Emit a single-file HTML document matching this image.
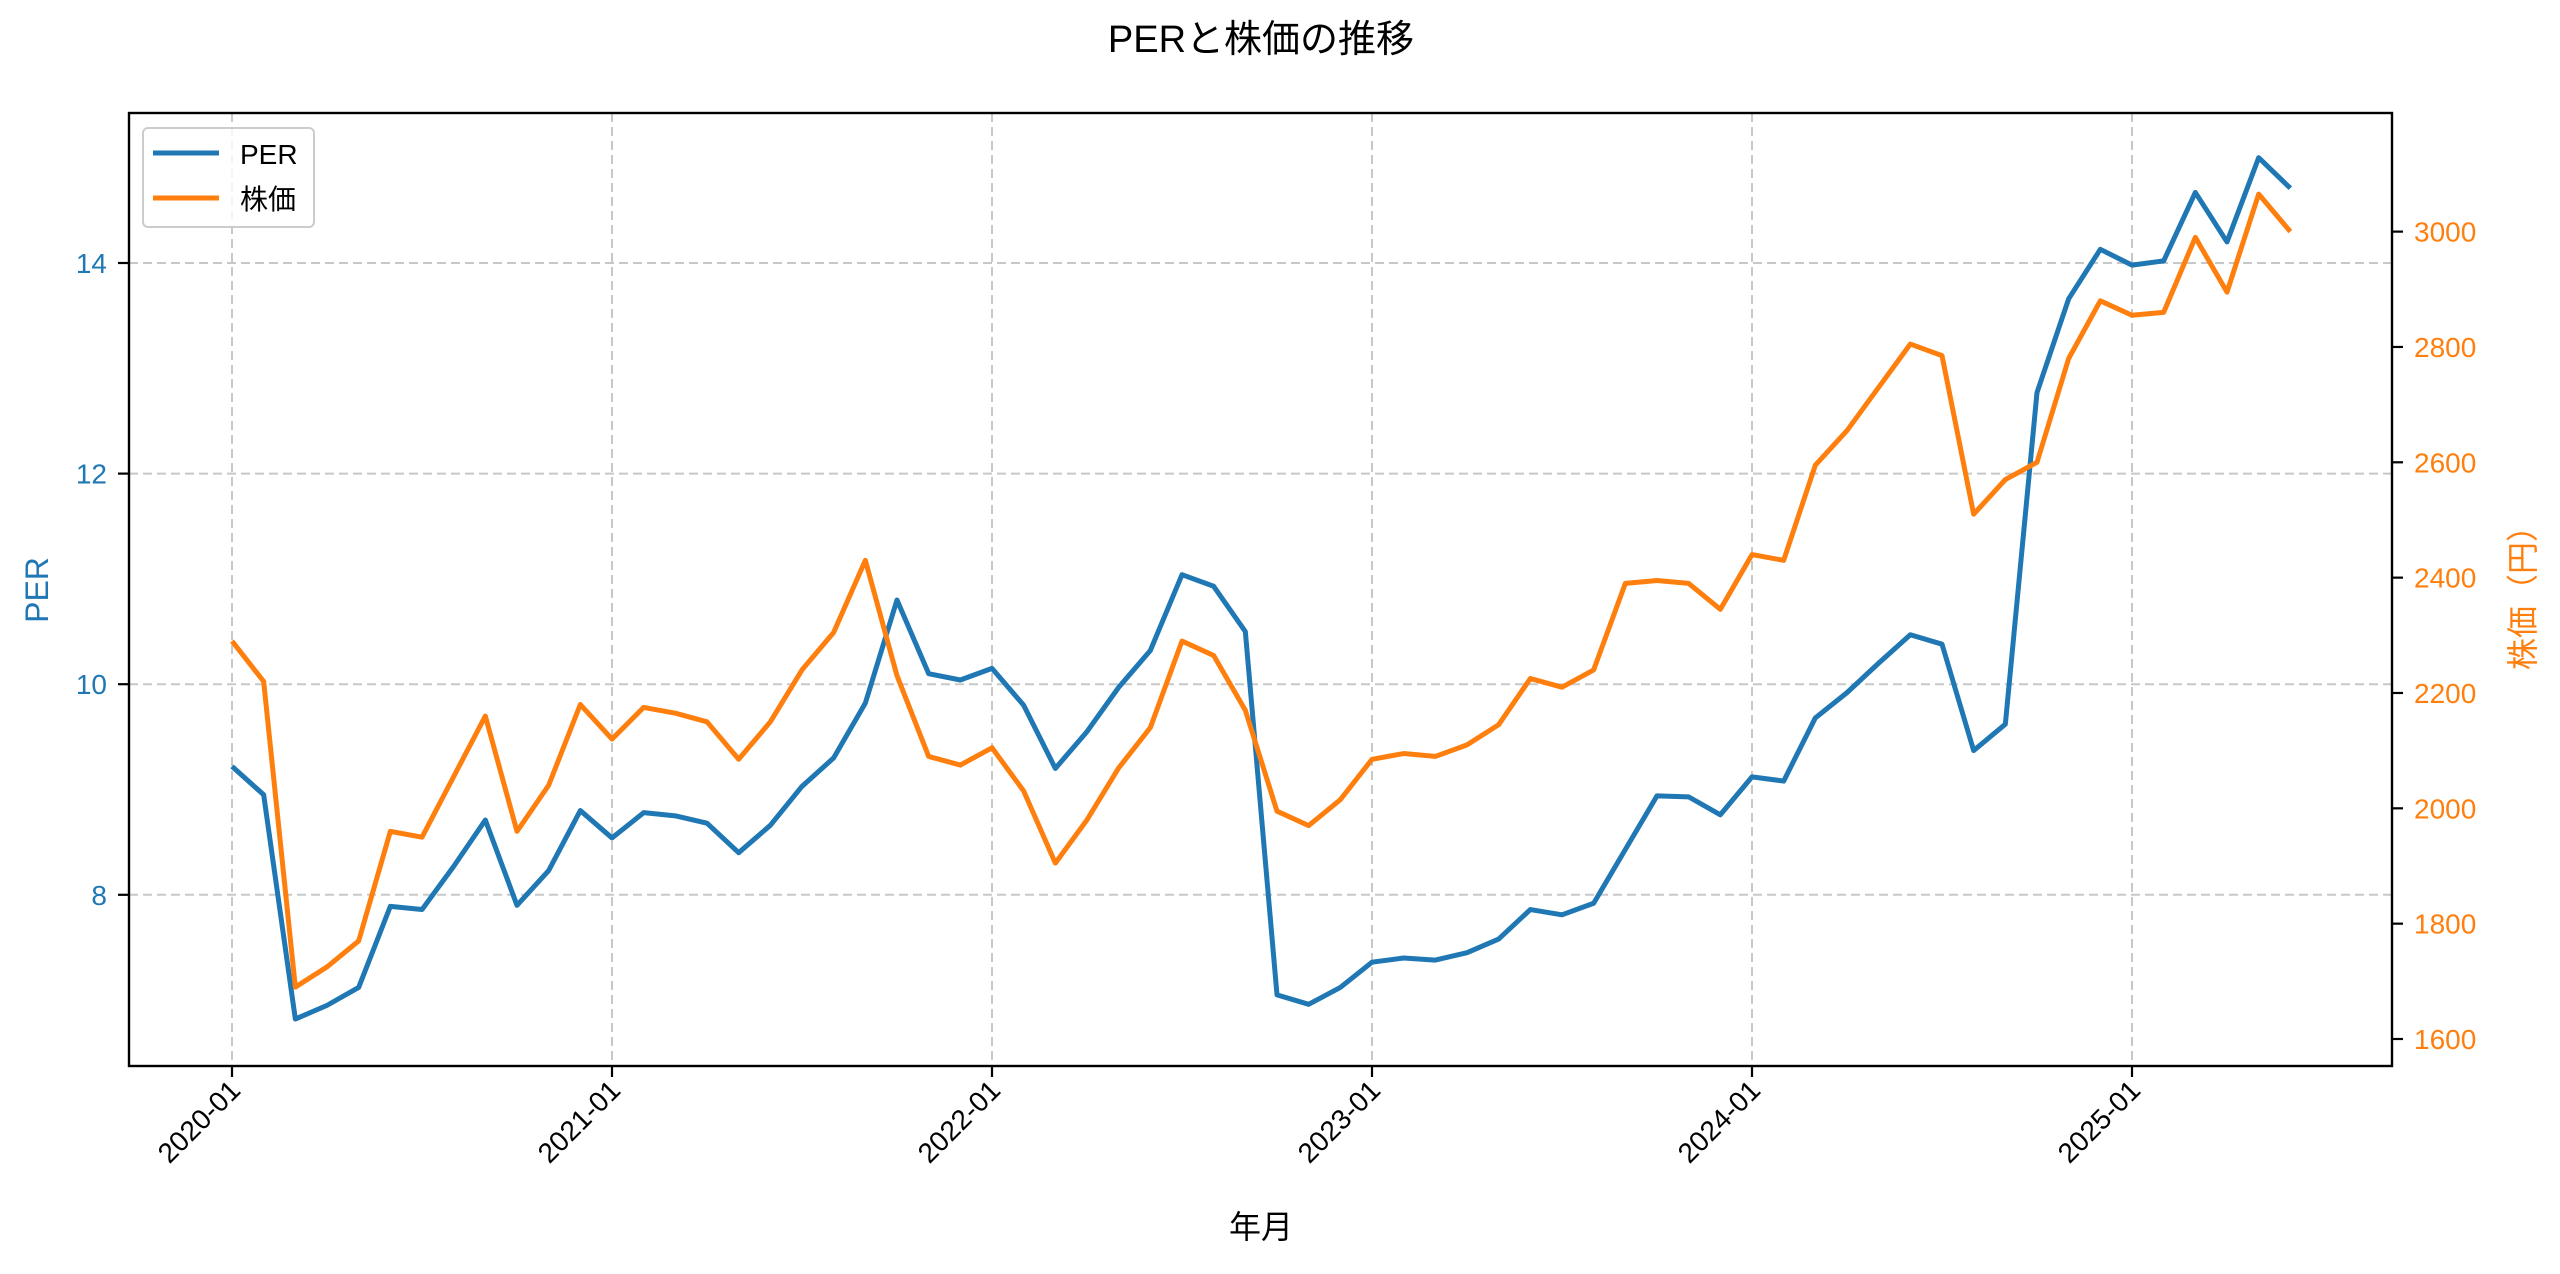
<!DOCTYPE html>
<html><head><meta charset="utf-8"><style>
body{margin:0;background:#fff}
svg text{font-family:"Liberation Sans","Noto Sans CJK JP",sans-serif}
</style></head><body>
<svg id="chart" width="2560" height="1269" xmlns="http://www.w3.org/2000/svg">
<rect width="2560" height="1269" fill="#fff"/>
<text x="1261" y="52" font-size="38" text-anchor="middle">PERと株価の推移</text>
<g id="grid"></g>
<g id="series"></g>
<rect x="129" y="113" width="2263" height="953" fill="none" stroke="#000" stroke-width="2.4"/>
<g id="axes"></g>
<text x="1261" y="1238" font-size="32" text-anchor="middle">年月</text>
<text transform="translate(48,590) rotate(-90)" font-size="32" text-anchor="middle" fill="#1f77b4">PER</text>
<text transform="translate(2534,590) rotate(-90)" font-size="32" text-anchor="middle" fill="#ff7f0e">株価（円）</text>
<g>
<rect x="143" y="128" width="171" height="99" rx="5" fill="#fff" fill-opacity="0.8" stroke="#ccc" stroke-width="2"/>
<line x1="153" y1="153" x2="219" y2="153" stroke="#1f77b4" stroke-width="5"/>
<text x="240" y="164" font-size="28">PER</text>
<line x1="153" y1="198" x2="219" y2="198" stroke="#ff7f0e" stroke-width="5"/>
<text x="240" y="209" font-size="28">株価</text>
</g>
</svg>
<script>
const months = 66; // 2020-01 .. 2025-06
const xTickLabels = ["2020-01","2021-01","2022-01","2023-01","2024-01","2025-01"];
const perTicks = [8,10,12,14];
const priceTicks = [1600,1800,2000,2200,2400,2600,2800,3000];
const perValues = [9.22,8.95,6.82,6.95,7.12,7.89,7.86,8.27,8.71,7.90,8.23,8.80,
8.54,8.78,8.75,8.68,8.40,8.66,9.03,9.30,9.82,10.80,10.10,10.04,
10.15,9.80,9.20,9.55,9.97,10.32,11.04,10.93,10.50,7.05,6.96,7.12,
7.36,7.40,7.38,7.45,7.58,7.86,7.81,7.92,8.43,8.94,8.93,8.76,
9.12,9.08,9.68,9.92,10.20,10.47,10.38,9.37,9.62,12.77,13.66,14.13,
13.98,14.02,14.67,14.20,15.00,14.71];
const priceValues = [2290,2220,1690,1725,1770,1960,1950,2055,2160,1960,2040,2180,
2120,2175,2165,2150,2085,2150,2240,2305,2430,2230,2090,2075,
2105,2030,1905,1980,2070,2140,2290,2265,2170,1995,1970,2015,
2085,2095,2090,2110,2145,2225,2210,2240,2390,2395,2390,2345,
2440,2430,2595,2655,2730,2805,2785,2510,2570,2600,2780,2880,
2855,2860,2990,2895,3065,3000];

const NS="http://www.w3.org/2000/svg";
const xS = i => 232 + i*(1900/60);
const yL = v => 263 + (14-v)*105.3;
const yR = v => 1039 - (v-1600)*0.5767;
function mk(tag, parent, attrs){const e=document.createElementNS(NS,tag);for(const k in attrs)e.setAttribute(k,attrs[k]);parent.appendChild(e);return e;}
const grid=document.getElementById('grid'), axes=document.getElementById('axes'), series=document.getElementById('series');

xTickLabels.forEach((lab,k)=>{
  const x=xS(k*12);
  const g=mk('line',grid,{x1:x,y1:113,x2:x,y2:1066,stroke:'#b0b0b0','stroke-width':2,'stroke-dasharray':'9,5','stroke-opacity':0.7});
  
  
  const t=mk('line',axes,{x1:x,y1:1066,x2:x,y2:1077,stroke:'#000','stroke-width':2.2});
  
  
  const tx=mk('text',axes,{transform:`translate(${x+10},${1092}) rotate(-45)`,'font-size':28,'text-anchor':'end'});
  tx.textContent=lab;
  
  
});
perTicks.forEach(v=>{
  const y=yL(v);
  const g=mk('line',grid,{x1:129,y1:y,x2:2392,y2:y,stroke:'#b0b0b0','stroke-width':2,'stroke-dasharray':'9,5','stroke-opacity':0.7});
  
  
  const t=mk('line',axes,{x1:118,y1:y,x2:129,y2:y,stroke:'#000','stroke-width':2.2});
  
  
  const tx=mk('text',axes,{x:107,y:y+10,'font-size':28,'text-anchor':'end',fill:'#1f77b4'});
  tx.textContent=v;
  
  
});
priceTicks.forEach(v=>{
  const y=yR(v);
  const t=mk('line',axes,{x1:2392,y1:y,x2:2403,y2:y,stroke:'#000','stroke-width':2.2});
  
  
  const tx=mk('text',axes,{x:2414,y:y+10,'font-size':28,fill:'#ff7f0e'});
  tx.textContent=v;
  
  
});
const perLine=mk('polyline',series,{points:perValues.map((v,i)=>xS(i)+','+yL(v)).join(' '),fill:'none',stroke:'#1f77b4','stroke-width':5,'stroke-linejoin':'round'});


const priceLine=mk('polyline',series,{points:priceValues.map((v,i)=>xS(i)+','+yR(v)).join(' '),fill:'none',stroke:'#ff7f0e','stroke-width':5,'stroke-linejoin':'round'});


</script>
</body></html>
